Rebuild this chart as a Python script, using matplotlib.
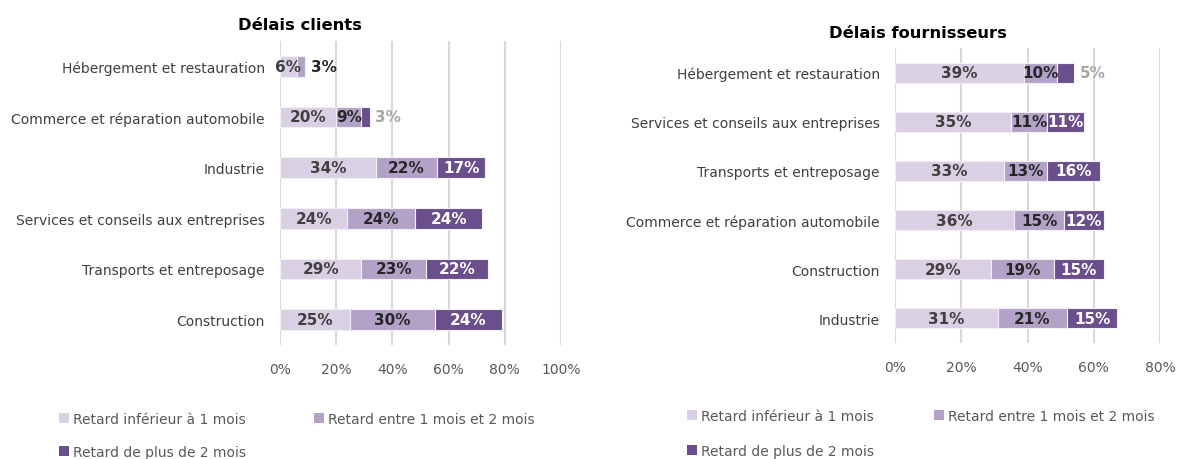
import matplotlib
matplotlib.use("Agg")
import matplotlib.pyplot as plt
import numpy as np
from matplotlib.patches import Patch

# ---- data ----
series_names = ["Retard inférieur à 1 mois", "Retard entre 1 mois et 2 mois", "Retard de plus de 2 mois"]

clients_categories = ["Hébergement et restauration", "Commerce et réparation automobile", "Industrie",
                      "Services et conseils aux entreprises", "Transports et entreposage", "Construction"]
clients_lt1 = [6, 20, 34, 24, 29, 25]
clients_1to2 = [3, 9, 22, 24, 23, 30]
clients_gt2 = [0, 3, 17, 24, 22, 24]

fourn_categories = ["Hébergement et restauration", "Services et conseils aux entreprises",
                    "Transports et entreposage", "Commerce et réparation automobile",
                    "Construction", "Industrie"]
fourn_lt1 = [39, 35, 33, 36, 29, 31]
fourn_1to2 = [10, 11, 13, 15, 19, 21]
fourn_gt2 = [5, 11, 16, 12, 15, 15]

clients_ticks = [0, 20, 40, 60, 80, 100]
fourn_ticks = [0, 20, 40, 60, 80]

# ---- style ----
plt.rcParams['font.family'] = ["DejaVu Sans"]
colors = ["#D9D0E3", "#B3A2C8", "#6B4F8D"]
inside_text = ["#404040", "#262626", "#FFFFFF"]
outside_text = ["#262626", "#262626", "#A6A6A6"]
grid_color = "#D9D9D9"

fig = plt.figure(figsize=(11.79, 4.6), dpi=100)
W, H = 1179, 460


def px_axes(x0, x1, y0, y1):
    return fig.add_axes([x0 / W, 1 - y1 / H, (x1 - x0) / W, (y1 - y0) / H])


def draw(ax, cats, vals, ticks, xmax):
    y = np.arange(len(cats))
    left = np.zeros(len(cats))
    for i, v in enumerate(vals):
        v = np.array(v, dtype=float)
        ax.barh(y, v / 100, left=left / 100, height=0.41, color=colors[i],
                edgecolor="#F2EFF6", linewidth=0.8, zorder=3)
        for j, val in enumerate(v):
            if val <= 0:
                continue
            if val <= 5:
                ax.annotate(f"{int(val)}%", xy=((left[j] + val) / 100, y[j]), xytext=(4, 0),
                            textcoords="offset points", ha="left", va="center",
                            fontsize=11, fontweight="bold", color=outside_text[i], zorder=5)
            else:
                ax.text((left[j] + val / 2) / 100, y[j], f"{int(val)}%", ha="center", va="center",
                        fontsize=11, fontweight="bold", color=inside_text[i], zorder=5)
        left = left + v
    ax.set_xlim(0, xmax / 100)
    ax.set_ylim(len(cats) - 0.5, -0.5)
    ax.set_yticks(y)
    ax.set_yticklabels(cats, fontsize=10, color="#404040")
    ax.set_xticks([t / 100 for t in ticks])
    ax.set_xticklabels([f"{t}%" for t in ticks], fontsize=10, color="#595959")
    ax.tick_params(length=0)
    ax.tick_params(axis="y", pad=11)
    ax.tick_params(axis="x", pad=12)
    for s in ax.spines.values():
        s.set_visible(False)
    ax.grid(axis="x", color=grid_color, linewidth=1.5, zorder=0)
    ax.set_axisbelow(True)


ax1 = px_axes(280, 561, 42, 346)
draw(ax1, clients_categories, [clients_lt1, clients_1to2, clients_gt2], clients_ticks, 100)
ax2 = px_axes(895, 1160, 49, 344)
draw(ax2, fourn_categories, [fourn_lt1, fourn_1to2, fourn_gt2], fourn_ticks, 80)

fig.text(300 / W, 1 - 25 / H, "Délais clients", ha="center", va="center", fontsize=11.8,
         fontweight="bold", color="#000000")
fig.text(918 / W, 1 - 34 / H, "Délais fournisseurs", ha="center", va="center", fontsize=11.8,
         fontweight="bold", color="#000000")


def add_legend(xm, ym, i):
    h = Patch(facecolor=colors[i], edgecolor="none")
    fig.legend([h], [series_names[i]], loc="center left",
               bbox_to_anchor=(xm / W, 1 - ym / H), frameon=False, fontsize=10,
               handlelength=0.7, handleheight=0.7, handletextpad=0.3, borderpad=0,
               borderaxespad=0, labelcolor="#595959")


add_legend(59, 420, 0)
add_legend(314, 420, 1)
add_legend(59, 453, 2)
add_legend(687, 417, 0)
add_legend(934, 417, 1)
add_legend(687, 452, 2)

fig.savefig("out.png", dpi=100)
